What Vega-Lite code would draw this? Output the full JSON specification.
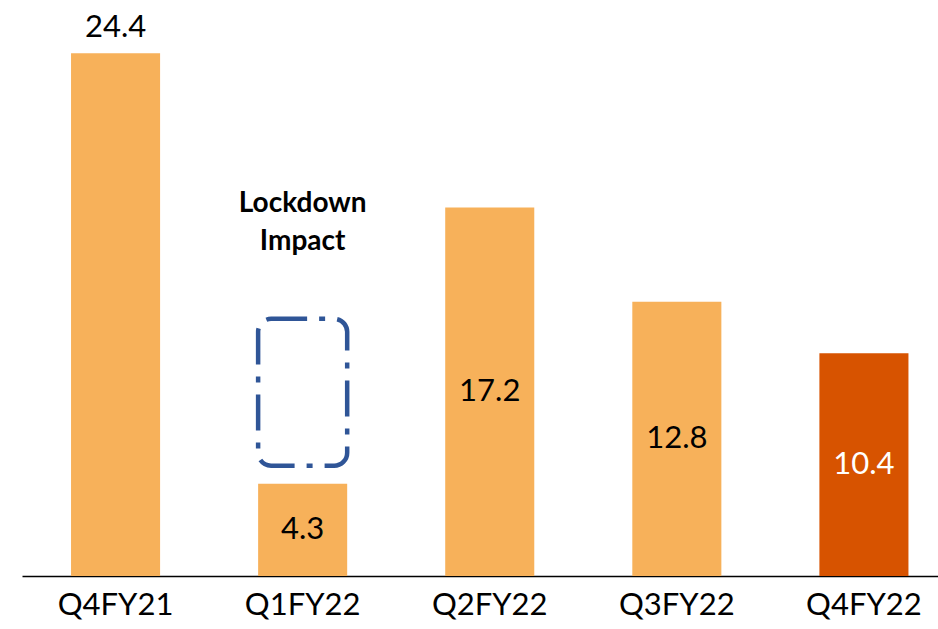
{
  "$schema": "https://vega.github.io/schema/vega-lite/v6.json",
  "width": 916,
  "height": 576,
  "padding": {"left": 22, "top": 0, "right": 0, "bottom": 53},
  "autosize": {"type": "none"},
  "background": "white",
  "config": {
    "view": {"stroke": null},
    "font": "Lato"
  },
  "datasets": {
    "bars": [
      {"quarter": "Q4FY21", "value": 24.4, "period": "prior"},
      {"quarter": "Q1FY22", "value": 4.3, "period": "prior"},
      {"quarter": "Q2FY22", "value": 17.2, "period": "prior"},
      {"quarter": "Q3FY22", "value": 12.8, "period": "prior"},
      {"quarter": "Q4FY22", "value": 10.4, "period": "current"}
    ],
    "note": [
      {"quarter": "Q1FY22", "label": "Lockdown", "y": 16.99},
      {"quarter": "Q1FY22", "label": "Impact", "y": 15.21}
    ],
    "box": [
      {"quarter": "Q1FY22", "top": 12.0, "bottom": 5.15}
    ]
  },
  "layer": [
    {
      "data": {"name": "bars"},
      "mark": {"type": "bar"},
      "encoding": {
        "x": {
          "field": "quarter",
          "type": "nominal",
          "sort": null,
          "scale": {"paddingInner": 0.524, "paddingOuter": 0.21, "align": 0.624},
          "axis": {
            "title": null,
            "ticks": false,
            "labelAngle": 0,
            "labelFont": "Lato",
            "labelFontSize": 31,
            "labelColor": "#000000",
            "labelPadding": 14,
            "domainColor": "#000000",
            "domainWidth": 1.5
          }
        },
        "y": {
          "field": "value",
          "type": "quantitative",
          "scale": {"domain": [0, 26.88], "nice": false},
          "axis": null
        },
        "color": {
          "field": "period",
          "type": "nominal",
          "scale": {"domain": ["prior", "current"], "range": ["#F7B15A", "#D75300"]},
          "legend": null
        }
      }
    },
    {
      "data": {"name": "bars"},
      "transform": [{"filter": "datum.quarter === 'Q4FY21'"}],
      "mark": {"type": "text", "fontSize": 31, "baseline": "alphabetic", "dy": -16, "color": "#000000"},
      "encoding": {
        "x": {"field": "quarter", "type": "nominal", "sort": null},
        "y": {"field": "value", "type": "quantitative"},
        "text": {"field": "value", "type": "quantitative", "format": ".1f"}
      }
    },
    {
      "data": {"name": "bars"},
      "transform": [
        {"filter": "datum.quarter !== 'Q4FY21'"},
        {"calculate": "datum.value / 2", "as": "mid"}
      ],
      "mark": {"type": "text", "fontSize": 31, "baseline": "middle"},
      "encoding": {
        "x": {"field": "quarter", "type": "nominal", "sort": null},
        "y": {"field": "mid", "type": "quantitative"},
        "text": {"field": "value", "type": "quantitative", "format": ".1f"},
        "color": {
          "condition": {"test": "datum.period === 'current'", "value": "#FFFFFF"},
          "value": "#000000"
        }
      }
    },
    {
      "data": {"name": "box"},
      "mark": {
        "type": "rect",
        "fill": null,
        "fillOpacity": 0,
        "stroke": "#2F5597",
        "strokeWidth": 4.5,
        "strokeDash": [36, 12, 6, 12],
        "cornerRadius": 13
      },
      "encoding": {
        "x": {"field": "quarter", "type": "nominal", "sort": null},
        "y": {"field": "top", "type": "quantitative"},
        "y2": {"field": "bottom"}
      }
    },
    {
      "data": {"name": "note"},
      "mark": {"type": "text", "fontSize": 28, "fontWeight": "bold", "baseline": "alphabetic", "color": "#000000"},
      "encoding": {
        "x": {"field": "quarter", "type": "nominal", "sort": null},
        "y": {"field": "y", "type": "quantitative"},
        "text": {"field": "label"}
      }
    }
  ]
}
